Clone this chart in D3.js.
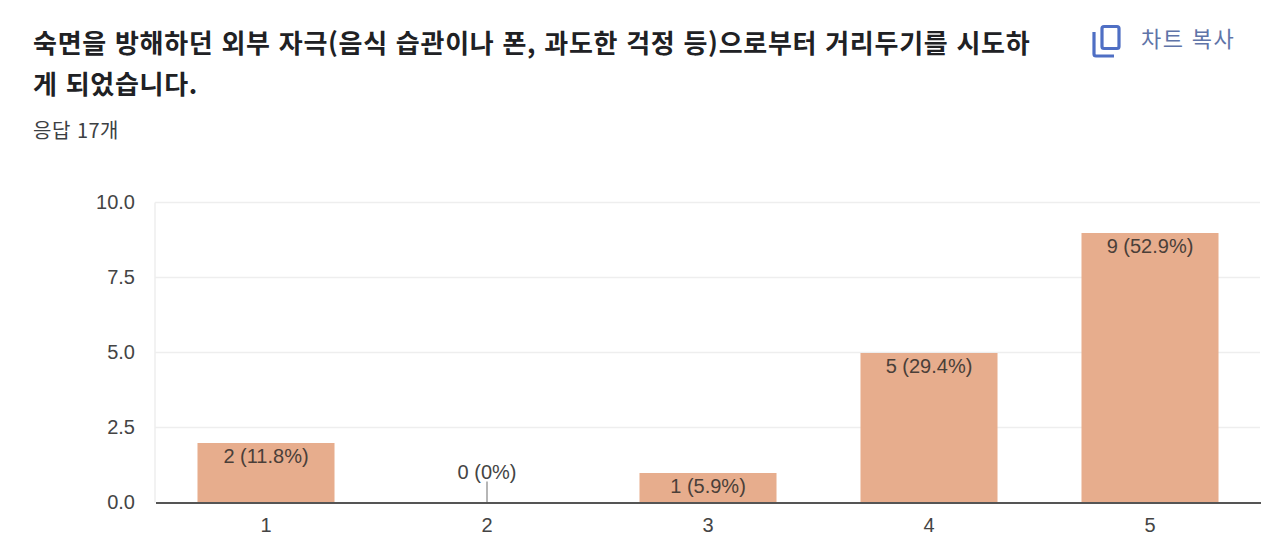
<!DOCTYPE html>
<html lang="ko">
<head>
<meta charset="utf-8">
<script src="https://cdn.jsdelivr.net/npm/d3@7"></script>
<style>
  html, body { margin: 0; padding: 0; background: #fff; overflow: hidden; }
  text { font-family: "Liberation Sans", Arial, sans-serif; }
  .kr { font-family: "Noto Sans CJK KR", sans-serif; }
</style>
</head>
<body>
<svg id="chart" width="1280" height="553"></svg>
<script>
// Chart data
const categories = ["1", "2", "3", "4", "5"];
const counts = [2, 0, 1, 5, 9];
const percents = ["11.8%", "0%", "5.9%", "29.4%", "52.9%"];
const yTicks = [0, 2.5, 5, 7.5, 10];
const titleLines = [
  "숙면을 방해하던 외부 자극(음식 습관이나 폰, 과도한 걱정 등)으로부터 거리두기를 시도하",
  "게 되었습니다."
];
const subtitle = "응답 17개";
const copyLabel = "차트 복사";

const svg = d3.select("#chart");

// Header
svg.selectAll(".title")
  .data(titleLines)
  .enter().append("text")
  .attr("class", "title kr")
  .attr("x", 33)
  .attr("y", (d, i) => 53 + i * 41)
  .attr("font-size", 26)
  .attr("font-weight", 700)
  .attr("letter-spacing", 0.72)
  .attr("fill", "#202124")
  .text(d => d);

svg.append("text")
  .attr("class", "kr")
  .attr("x", 33)
  .attr("y", 138)
  .attr("font-size", 20)
  .attr("letter-spacing", 0.5)
  .attr("fill", "#3c4043")
  .text(subtitle);

// Copy button icon
const icon = svg.append("g")
  .attr("fill", "none")
  .attr("stroke", "#4f6fc4")
  .attr("stroke-width", 3.2);
icon.append("rect")
  .attr("x", 1102)
  .attr("y", 26.5)
  .attr("width", 17)
  .attr("height", 22)
  .attr("rx", 2);
icon.append("path")
  .attr("d", "M1094 32V54a2 2 0 0 0 2 2H1114");

svg.append("text")
  .attr("class", "kr")
  .attr("x", 1141)
  .attr("y", 47)
  .attr("font-size", 22)
  .attr("letter-spacing", 1.4)
  .attr("fill", "#5f74a8")
  .text(copyLabel);

// Plot
const x = d3.scaleBand()
  .domain(categories)
  .range([155.5, 1260.5])
  .paddingInner(0.38)
  .paddingOuter(0.19);

const y = d3.scaleLinear()
  .domain([0, 10])
  .range([502.5, 202.5]);

// Gridlines
svg.selectAll(".grid")
  .data(yTicks.filter(d => d > 0))
  .enter().append("line")
  .attr("class", "grid")
  .attr("x1", 155)
  .attr("x2", 1260)
  .attr("y1", d => y(d))
  .attr("y2", d => y(d))
  .attr("stroke", "#eeeeee")
  .attr("stroke-width", 1.5);

svg.append("line")
  .attr("x1", 155)
  .attr("x2", 155)
  .attr("y1", y(10))
  .attr("y2", y(0))
  .attr("stroke", "#eeeeee")
  .attr("stroke-width", 1.5);

// Bars
svg.selectAll(".bar")
  .data(categories)
  .enter().append("rect")
  .attr("class", "bar")
  .attr("x", d => x(d))
  .attr("y", (d, i) => y(counts[i]) + 0.5)
  .attr("width", x.bandwidth())
  .attr("height", (d, i) => Math.max(0, y(0) - y(counts[i]) - 0.5))
  .attr("fill", "#e7ad8d");

// Stem for the zero bar
svg.selectAll(".stem")
  .data(categories.filter((d, i) => counts[i] === 0))
  .enter().append("line")
  .attr("class", "stem")
  .attr("x1", d => x(d) + x.bandwidth() / 2)
  .attr("x2", d => x(d) + x.bandwidth() / 2)
  .attr("y1", y(0))
  .attr("y2", y(0) - 21)
  .attr("stroke", "#9e9e9e")
  .attr("stroke-width", 1.5);

// Value labels
svg.selectAll(".value")
  .data(categories)
  .enter().append("text")
  .attr("class", "value")
  .attr("x", d => x(d) + x.bandwidth() / 2)
  .attr("y", (d, i) => counts[i] === 0 ? y(0) - 24 : y(counts[i]) + 20)
  .attr("text-anchor", "middle")
  .attr("font-size", 20)
  .attr("fill", (d, i) => counts[i] === 0 ? "#444444" : "#4a3f39")
  .text((d, i) => `${counts[i]} (${percents[i]})`);

// Axes
const yAxis = d3.axisLeft(y)
  .tickValues(yTicks)
  .tickSize(0)
  .tickPadding(20)
  .tickFormat(d3.format(".1f"));

const yG = svg.append("g")
  .attr("transform", "translate(155,0)")
  .call(yAxis);
yG.select(".domain").remove();
yG.selectAll("text")
  .attr("font-size", 20)
  .attr("fill", "#444444");

const xAxis = d3.axisBottom(x)
  .tickSize(0)
  .tickPadding(15);

const xG = svg.append("g")
  .attr("transform", `translate(0,${y(0)})`)
  .call(xAxis);
xG.select(".domain")
  .attr("stroke", "#555555")
  .attr("stroke-width", 2);
xG.selectAll("text")
  .attr("font-size", 20)
  .attr("fill", "#444444");
</script>
</body>
</html>
